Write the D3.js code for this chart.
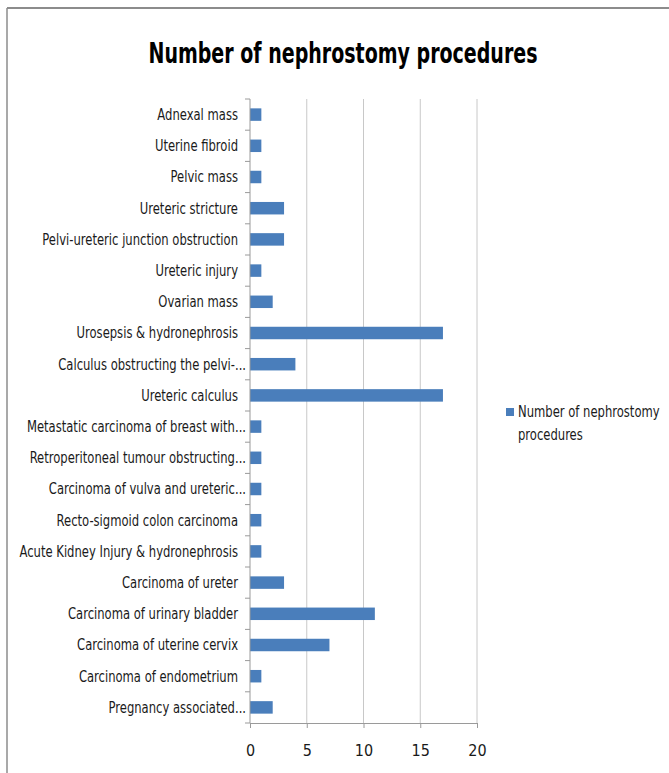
<!DOCTYPE html>
<html>
<head>
<meta charset="utf-8">
<script src="https://cdn.jsdelivr.net/npm/d3@7"></script>
<style>
  body { margin: 0; background: #fff; }
  svg text { font-family: "Liberation Sans Narrow", "DejaVu Sans Condensed", "Open Sans", sans-serif; fill: #222; }
  .grid line { stroke: #c8c8c8; }
  .axis path, .axis line { stroke: #9a9a9a; }
</style>
</head>
<body>
<svg id="canvas" width="669" height="773"></svg>
<script>
const categories = [
  "Adnexal mass",
  "Uterine fibroid",
  "Pelvic mass",
  "Ureteric stricture",
  "Pelvi-ureteric junction obstruction",
  "Ureteric injury",
  "Ovarian mass",
  "Urosepsis & hydronephrosis",
  "Calculus obstructing the pelvi-...",
  "Ureteric calculus",
  "Metastatic carcinoma of breast with...",
  "Retroperitoneal tumour obstructing...",
  "Carcinoma of vulva and ureteric...",
  "Recto-sigmoid colon carcinoma",
  "Acute Kidney Injury & hydronephrosis",
  "Carcinoma of ureter",
  "Carcinoma of urinary bladder",
  "Carcinoma of uterine cervix",
  "Carcinoma of endometrium",
  "Pregnancy associated..."
];
const procedures = [1, 1, 1, 3, 3, 1, 2, 17, 4, 17, 1, 1, 1, 1, 1, 3, 11, 7, 1, 2];
const xTicks = [0, 5, 10, 15, 20];
const legendLines = ["Number of nephrostomy", "procedures"];
const title = "Number of nephrostomy procedures";

const svg = d3.select("#canvas");

// chart frame (only top and left edges show)
svg.append("line").attr("x1", 7).attr("x2", 669).attr("y1", 8).attr("y2", 8)
  .attr("stroke", "#8c8c8c").attr("stroke-width", 2);
svg.append("line").attr("x1", 7).attr("x2", 7).attr("y1", 8).attr("y2", 773)
  .attr("stroke", "#8c8c8c").attr("stroke-width", 1.5);

svg.append("text")
  .attr("x", 343).attr("y", 63)
  .attr("text-anchor", "middle")
  .attr("textLength", 389).attr("lengthAdjust", "spacingAndGlyphs")
  .style("font-size", "28px").style("font-weight", "bold")
  .style("fill", "#000")
  .text(title);

const plotL = 250, plotR = 477, plotT = 99, plotB = 723;
const squeeze = 0.86; // narrow the fallback font a bit

const x = d3.scaleLinear().domain([0, 20]).range([plotL, plotR]);
const y = d3.scaleBand().domain(categories).range([plotT, plotB]).paddingInner(0.6).paddingOuter(0.3);

svg.append("g").attr("class", "grid")
  .selectAll("line")
  .data(xTicks.slice(1))
  .join("line")
  .attr("x1", d => x(d)).attr("x2", d => x(d))
  .attr("y1", plotT).attr("y2", plotB);

svg.selectAll(".bar")
  .data(categories)
  .join("rect")
  .attr("class", "bar")
  .attr("x", x(0))
  .attr("y", d => y(d))
  .attr("width", (d, i) => x(procedures[i]) - x(0))
  .attr("height", y.bandwidth())
  .attr("fill", "#4a7ebb");

// y axis: line plus ticks at band boundaries
const yAxis = svg.append("g").attr("class", "axis");
yAxis.append("line").attr("x1", plotL).attr("x2", plotL).attr("y1", plotT).attr("y2", plotB);
const step = (plotB - plotT) / categories.length;
yAxis.selectAll(".tk")
  .data(d3.range(categories.length + 1))
  .join("line")
  .attr("x1", plotL - 5).attr("x2", plotL)
  .attr("y1", i => plotT + i * step).attr("y2", i => plotT + i * step);

svg.append("g")
  .selectAll("text")
  .data(categories)
  .join("text")
  .attr("transform", d => `translate(${d.endsWith("...") ? plotL - 4 : plotL - 12},${y(d) + y.bandwidth() / 2}) scale(${squeeze},1)`)
  .attr("dy", "0.36em")
  .attr("text-anchor", "end")
  .style("font-size", "15px")
  .style("fill", "#1a1a1a")
  .text(d => d);

const xAxis = svg.append("g").attr("class", "axis")
  .attr("transform", `translate(0,${plotB})`)
  .call(d3.axisBottom(x).tickValues(xTicks).tickSize(5).tickSizeOuter(0).tickPadding(17));
xAxis.selectAll("text")
  .style("font-size", "16px").style("font-family", null).style("fill", "#1a1a1a");

// legend
svg.append("rect").attr("x", 506).attr("y", 408).attr("width", 8).attr("height", 8).attr("fill", "#4a7ebb");
svg.append("g")
  .attr("transform", `translate(518,417) scale(${squeeze},1)`)
  .append("text")
  .style("font-size", "15px")
  .style("fill", "#1a1a1a")
  .selectAll("tspan")
  .data(legendLines)
  .join("tspan")
  .attr("x", 0)
  .attr("dy", (d, i) => i === 0 ? 0 : 23)
  .text(d => d);
</script>
</body>
</html>
